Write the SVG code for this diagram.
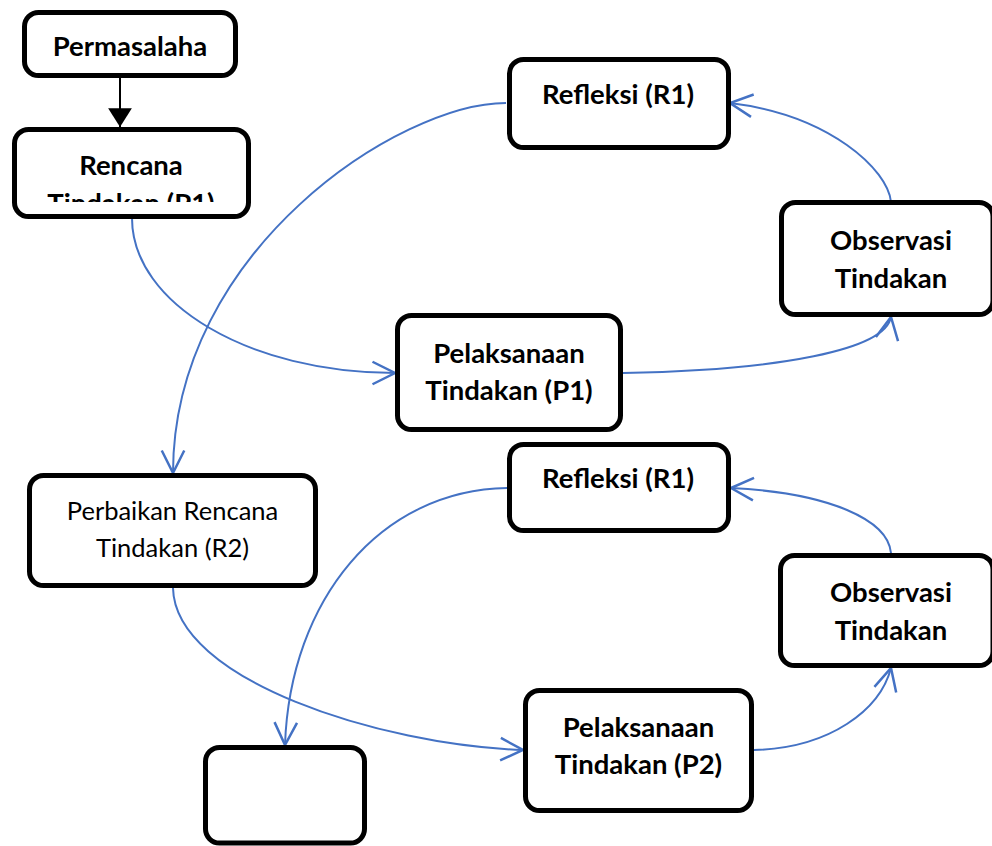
<svg xmlns="http://www.w3.org/2000/svg" width="992" height="846" viewBox="0 0 992 846">
<defs>
<style>
.box{fill:#fff;stroke:#000;stroke-width:5}
.t{font-family:Lato,"Liberation Sans",sans-serif;font-size:27.5px;font-weight:bold;fill:#000;text-anchor:middle}
.r{font-weight:normal;font-size:25.5px}
.c{fill:none;stroke:#4472C4;stroke-width:2;marker-end:url(#ah)}
</style>
<marker id="ah" markerUnits="userSpaceOnUse" markerWidth="30" markerHeight="30" refX="0" refY="0" viewBox="-20 -12 22 24" orient="auto" overflow="visible">
<path d="M-18,-9 L0,0 L-18,9" fill="none" stroke="#4472C4" stroke-width="2"/>
</marker>
<marker id="bh" markerUnits="userSpaceOnUse" markerWidth="30" markerHeight="30" refX="0" refY="0" viewBox="-20 -12 22 24" orient="auto" overflow="visible">
<path d="M-15,-9.5 L0,0 L-15,9.5 Z" fill="#000"/>
</marker>
<clipPath id="clipR"><rect x="14" y="129" width="236" height="73"/></clipPath>
</defs>
<g id="connectors">
<line x1="120" y1="78" x2="120" y2="127" stroke="#000" stroke-width="2" marker-end="url(#bh)"/>
<path class="c" d="M132,218 C132,304 250,373 395,373"/>
<path class="c" d="M506,103 C400,103 173,250 173,473"/>
<path class="c" d="M623,373 C780,370 885,350 891,317"/>
<path class="c" d="M891,202 C888,170 830,115 730,103"/>
<path class="c" d="M173,588 C175,680 380,745 523,750"/>
<path class="c" d="M507,488 C380,490 290,600 285,745"/>
<path class="c" d="M754,750 C830,748 880,710 891,668"/>
<path class="c" d="M891,553 C888,520 830,493 731,488"/>
</g>
<g id="permasalaha">
<rect class="box" x="24.5" y="12.5" width="211" height="63" rx="14"/>
<text class="t" x="130" y="56">Permasalaha</text>
</g>
<g id="rencana">
<rect class="box" x="14.5" y="129.5" width="234" height="87" rx="14"/>
<text class="t" x="131" y="175">Rencana</text>
<text class="t" x="131" y="213" clip-path="url(#clipR)">Tindakan (P1)</text>
</g>
<g id="refleksi1">
<rect class="box" x="509.5" y="59.5" width="219" height="88" rx="14"/>
<text class="t" x="618" y="104">Refleksi (R1)</text>
</g>
<g id="observasi1">
<rect class="box" x="781.5" y="202.5" width="211.5" height="112" rx="14"/>
<text class="t" x="891" y="250">Observasi</text>
<text class="t" x="891" y="288">Tindakan</text>
</g>
<g id="pelaksanaan1">
<rect class="box" x="397.5" y="315.5" width="223" height="114" rx="14"/>
<text class="t" x="509" y="363">Pelaksanaan</text>
<text class="t" x="509" y="400">Tindakan (P1)</text>
</g>
<g id="perbaikan">
<rect class="box" x="29.5" y="475.5" width="286" height="110" rx="14"/>
<text class="t r" x="172.5" y="520">Perbaikan Rencana</text>
<text class="t r" x="172.5" y="557">Tindakan (R2)</text>
</g>
<g id="refleksi2">
<rect class="box" x="509.5" y="444.5" width="219" height="86" rx="14"/>
<text class="t" x="618" y="488">Refleksi (R1)</text>
</g>
<g id="observasi2">
<rect class="box" x="780.5" y="555.5" width="212.5" height="110" rx="14"/>
<text class="t" x="891" y="602">Observasi</text>
<text class="t" x="891" y="640">Tindakan</text>
</g>
<g id="pelaksanaan2">
<rect class="box" x="525.5" y="690.5" width="226" height="120" rx="14"/>
<text class="t" x="638.5" y="737">Pelaksanaan</text>
<text class="t" x="638.5" y="774">Tindakan (P2)</text>
</g>
<g id="empty">
<rect class="box" x="205.5" y="747.5" width="159" height="95.5" rx="14"/>
</g>
</svg>
